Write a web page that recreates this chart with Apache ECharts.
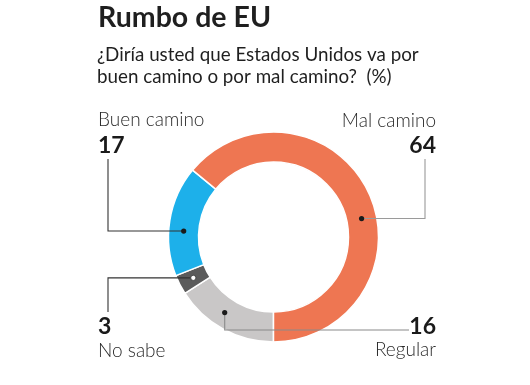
<!DOCTYPE html>
<html><head><meta charset="utf-8">
<script src="https://cdn.jsdelivr.net/npm/echarts@6/dist/echarts.min.js"></script>
<style>html,body{margin:0;padding:0;background:#fff}#c{width:530px;height:385px}</style>
</head><body><div id="c"></div>
<script>
const titleText = 'Rumbo de EU';
const subtitleLines = ['¿Diría usted que Estados Unidos va por', 'buen camino o por mal camino?  (%)'];
const categories = ['Regular', 'No sabe', 'Buen camino', 'Mal camino'];
const values = [16, 3, 17, 64];
const colors = ['#C9C7C7', '#5B5B5B', '#1DB0EA', '#EE7652'];

const FONT = 'Lato';
const cx = 273.5, cy = 237, rIn = 75, rOut = 105, rMid = 90;
// anchor position of the leader dot within each slice (fraction of slice span)
const anchorFrac = [0.57, 0.5, 0.415, 0.558];
// label layout per slice
const layout = [
  {align: 'right', x: 436, lineX: 409, valueY: 326.5, nameY: 350, type: 'downRight', lineY: 330},
  {align: 'left', x: 98, lineX: 108, valueY: 326.5, nameY: 351, type: 'side', endY: 312},
  {align: 'left', x: 98, lineX: 108, valueY: 145.5, nameY: 120, type: 'side', endY: 159},
  {align: 'right', x: 436, lineX: 425, valueY: 145.5, nameY: 120.5, type: 'side', endY: 159}
];
const lineColors = ['#8a8a8a', '#333333', '#333333', '#9a9a9a'];

const total = values.reduce((a, b) => a + b, 0);
const graphics = [];
let start = 270;
values.forEach((v, i) => {
  const span = v / total * 360;
  const a = (start - anchorFrac[i] * span) * Math.PI / 180;
  start -= span;
  const dx = cx + rMid * Math.cos(a), dy = cy - rMid * Math.sin(a);
  const L = layout[i];
  const pts = L.type === 'downRight'
    ? [[dx, dy], [dx, L.lineY], [L.lineX, L.lineY]]
    : [[dx, dy], [L.lineX, dy], [L.lineX, L.endY]];
  graphics.push({type: 'polyline', shape: {points: pts}, style: {stroke: lineColors[i], lineWidth: 1.1, fill: null}, z: 10});
  const white = i === 1;
  graphics.push({type: 'circle', shape: {cx: dx, cy: dy, r: 2.6}, style: {fill: white ? '#ffffff' : '#1a1a1a', stroke: white ? '#333' : null, lineWidth: white ? 0.8 : 0}, z: 11});
  graphics.push({type: 'text', x: L.x, y: L.valueY, style: {text: String(v), font: 'bold 23px ' + FONT, fill: '#1a1a1a', align: L.align, verticalAlign: 'middle'}, z: 12});
  graphics.push({type: 'text', x: L.x, y: L.nameY, style: {text: categories[i], font: '300 19px ' + FONT, fill: '#2a2a2a', align: L.align, verticalAlign: 'middle'}, z: 12});
});
graphics.push({type: 'text', x: 98, y: 17.5, style: {text: titleText, font: 'bold 28.5px ' + FONT, fill: '#1f1f1f', verticalAlign: 'middle'}});
subtitleLines.forEach((t, k) => {
  graphics.push({type: 'text', x: 97, y: 55 + k * 22, style: {text: t, font: '18.8px ' + FONT, fill: '#1f1f1f', verticalAlign: 'middle'}});
});

const chart = echarts.init(document.getElementById('c'), null, {renderer: 'canvas'});
chart.setOption({
  animation: false,
  backgroundColor: '#ffffff',
  series: [{
    type: 'pie',
    center: [cx, cy],
    radius: [rIn, rOut],
    startAngle: 270,
    clockwise: true,
    silent: true,
    label: {show: false},
    labelLine: {show: false},
    itemStyle: {borderColor: '#ffffff', borderWidth: 1.5},
    data: categories.map((c, i) => ({name: c, value: values[i], itemStyle: {color: colors[i]}}))
  }],
  graphic: graphics
});
</script></body></html>
